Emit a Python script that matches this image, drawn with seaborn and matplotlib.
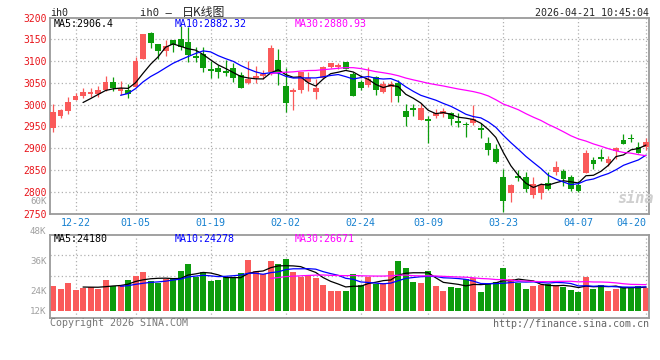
"""
ih0 daily K-line chart (sina finance style) rebuilt with seaborn/matplotlib.
"""

import numpy as np
import pandas as pd
import matplotlib
matplotlib.use("Agg")
import matplotlib.pyplot as plt
import seaborn as sns

# ------------------------------------------------------------------
# Data
# ------------------------------------------------------------------

dates = [
    "12-17", "12-18", "12-19", "12-22", "12-23", "12-24", "12-25", "12-26", "12-29", "12-30",
    "12-31", "01-05", "01-06", "01-07", "01-08", "01-09", "01-12", "01-13", "01-14", "01-15",
    "01-16", "01-19", "01-20", "01-21", "01-22", "01-23", "01-26", "01-27", "01-28", "01-29",
    "01-30", "02-02", "02-03", "02-04", "02-05", "02-06", "02-09", "02-10", "02-11", "02-12",
    "02-13", "02-24", "02-25", "02-26", "02-27", "03-02", "03-03", "03-04", "03-05", "03-06",
    "03-09", "03-10", "03-11", "03-12", "03-13", "03-16", "03-17", "03-18", "03-19", "03-20",
    "03-23", "03-24", "03-25", "03-26", "03-27", "03-30", "03-31", "04-01", "04-02", "04-03",
    "04-07", "04-08", "04-09", "04-10", "04-13", "04-14", "04-15", "04-16", "04-17", "04-20",
]

opens = [
    2945.5, 2974.2, 2985.6, 3010.6, 3018.9, 3023.5, 3025.0, 3033.3, 3050.8, 3030.3,
    3034.1, 3040.2, 3105.5, 3165.0, 3139.4, 3122.0, 3148.0, 3150.5, 3143.2, 3110.6,
    3115.9, 3082.6, 3084.8, 3078.0, 3084.8, 3068.9, 3048.5, 3060.6, 3066.7, 3075.0,
    3103.0, 3041.7, 3028.8, 3033.3, 3050.8, 3028.8, 3061.4, 3086.4, 3087.1, 3097.0,
    3071.2, 3050.8, 3044.7, 3064.4, 3028.8, 3040.2, 3048.5, 2984.8, 2993.2, 2965.1,
    2966.7, 2975.0, 2978.0, 2980.3, 2962.1, 2956.1, 2958.3, 2946.2, 2912.9, 2899.2,
    2833.3, 2796.2, 2835.6, 2833.3, 2792.4, 2796.2, 2820.4, 2844.7, 2848.5, 2834.8,
    2815.1, 2842.4, 2873.5, 2880.3, 2865.1, 2893.2, 2918.9, 2922.7, 2902.3, 2902.3,
]
highs = [
    3000.8, 2990.9, 3016.7, 3026.5, 3037.1, 3037.1, 3041.7, 3066.7, 3062.9, 3055.3,
    3047.7, 3109.8, 3162.0, 3166.0, 3139.8, 3148.5, 3149.0, 3180.0, 3178.0, 3131.8,
    3132.6, 3099.2, 3091.7, 3103.0, 3094.7, 3074.2, 3100.8, 3087.9, 3080.3, 3137.1,
    3128.8, 3084.1, 3037.1, 3075.5, 3075.0, 3059.8, 3087.9, 3095.5, 3095.5, 3097.5,
    3074.2, 3057.6, 3087.1, 3065.9, 3053.8, 3053.8, 3056.8, 3000.8, 3000.8, 3004.5,
    2974.2, 2989.4, 2991.7, 2984.1, 2980.3, 2960.6, 3000.0, 2957.6, 2925.0, 2909.8,
    2851.5, 2816.7, 2849.2, 2846.2, 2834.8, 2820.4, 2845.4, 2869.7, 2853.0, 2839.4,
    2825.0, 2894.7, 2879.5, 2898.5, 2881.0, 2902.3, 2932.6, 2932.6, 2914.4, 2922.7,
]
lows = [
    2937.9, 2969.7, 2979.5, 3010.0, 3015.2, 3016.7, 3017.4, 3032.0, 3030.3, 3021.2,
    3015.9, 3040.0, 3105.0, 3131.0, 3104.5, 3110.6, 3120.0, 3126.5, 3098.0, 3098.0,
    3075.0, 3061.4, 3061.4, 3066.7, 3051.5, 3037.1, 3047.0, 3048.5, 3059.1, 3068.9,
    3044.7, 2983.3, 2987.9, 3027.3, 3030.3, 3012.9, 3059.8, 3084.1, 3082.6, 3082.0,
    3019.2, 3032.6, 3040.2, 3022.0, 3027.3, 3006.1, 3006.8, 2951.5, 2974.2, 2964.5,
    2912.9, 2969.7, 2972.0, 2952.3, 2949.2, 2926.5, 2952.3, 2923.5, 2884.1, 2865.1,
    2752.3, 2776.5, 2825.0, 2798.5, 2785.6, 2782.6, 2803.8, 2837.9, 2813.9, 2802.6,
    2799.5, 2842.0, 2853.0, 2869.7, 2859.8, 2874.2, 2909.0, 2913.6, 2889.5, 2894.7,
]
closes = [
    2983.3, 2987.1, 3006.8, 3018.9, 3028.0, 3028.0, 3034.1, 3053.0, 3037.9, 3037.1,
    3024.2, 3099.2, 3161.5, 3141.0, 3122.0, 3134.8, 3138.0, 3133.0, 3112.9, 3106.8,
    3084.1, 3076.5, 3075.0, 3072.0, 3061.4, 3038.6, 3059.1, 3065.2, 3070.5, 3130.3,
    3075.0, 3003.8, 3034.1, 3075.0, 3062.1, 3037.9, 3085.6, 3094.7, 3091.7, 3082.6,
    3019.7, 3037.1, 3059.1, 3033.3, 3046.2, 3047.0, 3019.7, 2972.0, 2987.9, 2991.7,
    2962.9, 2981.8, 2984.8, 2967.4, 2958.3, 2952.3, 2965.9, 2942.4, 2894.7, 2867.4,
    2778.8, 2814.4, 2831.1, 2806.1, 2818.2, 2815.1, 2806.1, 2857.6, 2828.8, 2806.1,
    2801.8, 2889.4, 2862.9, 2874.2, 2875.8, 2900.8, 2909.1, 2921.0, 2889.5, 2915.0,
]
volumes = [
    25270, 22200, 28690, 21520, 23560, 24590, 21860, 31420, 25270, 25950,
    31420, 35860, 39610, 30740, 28350, 32100, 33470, 40640, 48150, 34150,
    39610, 30390, 31420, 34150, 34150, 38930, 51910, 40640, 37910, 50880,
    48150, 52930, 39610, 34150, 35520, 33810, 26300, 20490, 20490, 20490,
    37570, 26300, 34150, 27320, 28690, 40980, 51230, 43710, 29710, 28690,
    40640, 25610, 20490, 24590, 23560, 32780, 33130, 19470, 27660, 29710,
    44050, 32440, 28000, 22540, 25610, 26640, 26980, 25950, 24590, 21520,
    19470, 34490, 22540, 26300, 20490, 22540, 24590, 24590, 25610, 23560,
]

date_ticks = ["12-22", "01-05", "01-19", "02-02", "02-24", "03-09", "03-23", "04-07", "04-20"]
price_ticks = [2750, 2800, 2850, 2900, 2950, 3000, 3050, 3100, 3150, 3200]
price_ma_text = ["MA5:2906.4", "MA10:2882.32", "MA30:2880.93"]
vol_ma_text = ["MA5:24180", "MA10:24278", "MA30:26671"]
vol_axis_text = ["60K", "48K", "36K", "24K", "12K"]

UP = "#fa5a5a"
DOWN = "#0c9c0c"
MA_COLORS = ["black", "#0000ff", "#ff00ff"]
GRID = "#b0b0b0"
SPINE = "#9a9a9a"

sns.set_style("white")
plt.rcParams["font.family"] = ["DejaVu Sans Mono"]

df = pd.DataFrame({"date": dates, "open": opens, "high": highs,
                   "low": lows, "close": closes, "volume": volumes})
df["x"] = np.arange(len(df))
df["color"] = np.where(df["close"] >= df["open"], UP, DOWN)
for n in (5, 10, 30):
    df[f"ma{n}"] = df["close"].rolling(n).mean()
    df[f"vma{n}"] = df["volume"].rolling(n).mean()

W, H = 660, 360
fig = plt.figure(figsize=(W / 100, H / 100), dpi=100)
ax = fig.add_axes([50 / W, 1 - 213.5 / H, 599 / W, 196 / H])
axv = fig.add_axes([50 / W, 1 - 317.7 / H, 599 / W, 83 / H])

tick_pos = [dates.index(d) for d in date_ticks]

for a in (ax, axv):
    a.set_xlim(-0.4, len(df) - 0.6)
    for s in a.spines.values():
        s.set_color(SPINE)
        s.set_linewidth(1.3)
    for p in tick_pos:
        a.axvline(p, color=GRID, linestyle=(0, (1, 2)), linewidth=0.9, zorder=0)

# ------------------------------------------------------------------
# Price panel
# ------------------------------------------------------------------
ax.set_ylim(2750, 3200)
for p in price_ticks[1:-1]:
    ax.axhline(p, color=GRID, linestyle=(0, (1, 2)), linewidth=0.9, zorder=0)

ax.vlines(df["x"], df["low"], df["high"], colors=df["color"], linewidth=0.9, zorder=2)
body = (df["close"] - df["open"]).abs().clip(lower=1.3)
ax.bar(df["x"], body, bottom=df[["open", "close"]].min(axis=1),
       width=0.78, color=df["color"], linewidth=0, zorder=3)

for n, c in zip((5, 10, 30), MA_COLORS):
    sns.lineplot(data=df, x="x", y=f"ma{n}", color=c, linewidth=0.9,
                 ax=ax, legend=False, zorder=4)

ax.set_xlabel("")
ax.set_ylabel("")
ax.set_yticks(price_ticks)
ax.set_yticklabels([str(p) for p in price_ticks], color="#e8141a", fontsize=7)
ax.set_xticks(tick_pos)
ax.set_xticklabels(date_ticks, color="#1580d0", fontsize=7.2)
ax.tick_params(axis="both", length=0, pad=2.5)
ax.tick_params(axis="x", pad=3)
ax.get_xticklabels()[-1].set_horizontalalignment("right")

for txt, c, xp in zip(price_ma_text, MA_COLORS, (54, 175, 295)):
    fig.text(xp / W, 1 - 24 / H, txt, color=c, fontsize=7.2, va="center")

# ------------------------------------------------------------------
# Volume panel
# ------------------------------------------------------------------
axv.set_ylim(-7170, 77860)
for f in (0.25, 0.5, 0.75):
    axv.plot([0, 1], [f, f], transform=axv.transAxes, color=GRID,
             linestyle=(0, (1, 2)), linewidth=0.9, zorder=0)
axv.bar(df["x"], df["volume"], width=0.8, color=df["color"], linewidth=0, zorder=2)
for n, c in zip((5, 10, 30), MA_COLORS):
    sns.lineplot(data=df, x="x", y=f"vma{n}", color=c, linewidth=0.9,
                 ax=axv, legend=False, zorder=4)
axv.set_xlabel("")
axv.set_ylabel("")
axv.set_xticks([])
axv.set_yticks([])

for txt, c, xp in zip(vol_ma_text, MA_COLORS, (54, 175, 295)):
    fig.text(xp / W, 1 - 238.5 / H, txt, color=c, fontsize=7.2, va="center")
for txt, yp in zip(vol_axis_text, (201.5, 231, 261, 291, 311)):
    fig.text(46.5 / W, 1 - yp / H, txt, color="#a0a0a0", fontsize=6.6,
             ha="right", va="center")

# ------------------------------------------------------------------
# Header / footer
# ------------------------------------------------------------------
fig.text(50 / W, 1 - 12.5 / H, "ih0", fontsize=7.2, va="center")
fig.text(140 / W, 1 - 12.5 / H, "ih0 –", fontsize=7.6, va="center")
fig.text(182 / W, 1 - 12.5 / H, "日K线图", fontsize=8.6, va="center",
         family=["Noto Sans CJK SC", "DejaVu Sans Mono"])
fig.text(649 / W, 1 - 12.5 / H, "2026-04-21 10:45:04", fontsize=7.2,
         ha="right", va="center")
fig.text(50 / W, 1 - 323.5 / H, "Copyright 2026 SINA.COM", color="#777777",
         fontsize=7.2, va="center")
fig.text(649 / W, 1 - 324 / H, "http://finance.sina.com.cn", color="#666666",
         fontsize=7.2, ha="right", va="center")
fig.text(636 / W, 1 - 198 / H, "sina", color="#cfcfcf", fontsize=11,
         fontweight="bold", fontstyle="italic", ha="center", va="center")

fig.savefig("out.png", dpi=100, facecolor="white")
